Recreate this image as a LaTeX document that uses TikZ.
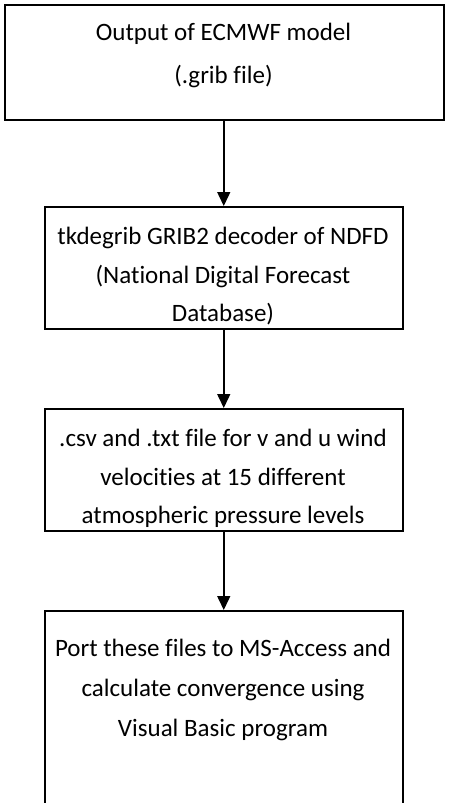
\documentclass[tikz,border=0pt]{standalone}
\usepackage{fontspec}
\setmainfont{Carlito}[Ligatures=NoCommon]
\usetikzlibrary{arrows.meta}
\begin{document}
\begin{tikzpicture}[x=1pt,y=-1pt,
  box/.style={draw=black, line width=1.5pt, inner sep=0pt, anchor=north west},
  txt/.style={anchor=base, inner sep=0pt, font=\fontsize{25}{30}\selectfont},
  arr/.style={draw=black, line width=1.5pt, -{Triangle[length=14pt,width=13pt]}}]
\useasboundingbox (0,0) rectangle (453,803);
% boxes
\node[box, minimum width=439pt, minimum height=115pt] (b1) at (4,4) {};
\node[box, minimum width=358pt, minimum height=122pt] (b2) at (44,206) {};
\node[box, minimum width=358pt, minimum height=122pt] (b3) at (44,408) {};
\node[box, minimum width=358pt, minimum height=210pt] (b4) at (44,610) {};
% texts
\node[txt] (t11) at (223.5,40) {Output of ECMWF model};
\node[txt] (t12) at (223.5,83) {(.grib file)};
\node[txt] (t21) at (223,244) {tkdegrib GRIB2 decoder of NDFD};
\node[txt] (t22) at (223,283) {(National Digital Forecast};
\node[txt] (t23) at (223,321) {Database)};
\node[txt] (t31) at (223,446) {.csv and .txt file for v and u wind};
\node[txt] (t32) at (223,485) {velocities at 15 different};
\node[txt] (t33) at (223,523) {atmospheric pressure levels};
\node[txt] (t41) at (223,656) {Port these files to MS-Access and};
\node[txt] (t42) at (223,696) {calculate convergence using};
\node[txt] (t43) at (223,736) {Visual Basic program};
% arrows
\draw[arr] (b1.south -| b2.north) -- (b2.north);
\draw[arr] (b2.south) -- (b3.north);
\draw[arr] (b3.south) -- (b4.north);
\end{tikzpicture}
\end{document}
